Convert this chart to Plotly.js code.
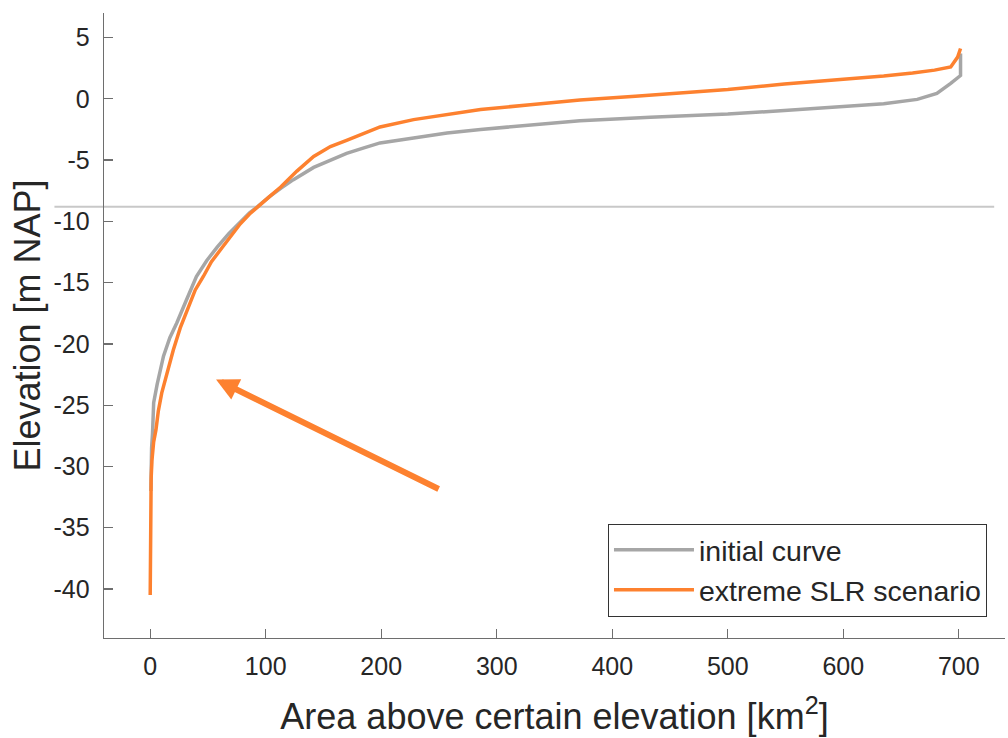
<!DOCTYPE html>
<html>
<head>
<meta charset="utf-8">
<script src="https://cdn.plot.ly/plotly-3.0.1.min.js"></script>
<style>html,body{margin:0;padding:0;background:#fff;}#chart{width:1008px;height:738px;}</style>
</head>
<body>
<div id="chart"></div>
<script>
// Hypsometric curves: area above a given elevation
const initialArea = [0.6, 0.8, 1.2, 2, 3, 6, 11.5, 17, 23, 31, 40, 49, 58, 68, 78, 86, 93, 103, 113, 124, 141.5, 156, 170, 185, 199, 228, 257, 286, 329, 372, 433, 500, 549, 600, 635, 664, 681, 693, 701.5, 701.5];
const initialElev = [-32, -30, -28.5, -27.3, -24.8, -23.3, -21, -19.5, -18.3, -16.5, -14.5, -13.2, -12.1, -11, -10, -9.3, -8.8, -8, -7.3, -6.6, -5.6, -5, -4.45, -4, -3.6, -3.2, -2.8, -2.5, -2.15, -1.8, -1.5, -1.25, -0.95, -0.65, -0.4, -0.05, 0.44, 1.25, 1.9, 3.7];

const slrArea = [0, 0.3, 0.8, 1.5, 3, 5, 7, 10, 14, 20, 26, 32, 39, 46, 53, 61, 70, 78, 86, 93, 103, 113, 127, 141.5, 156, 170, 185, 199, 228, 257, 286, 329, 372, 420, 459, 500, 549, 600, 635, 660, 679, 693, 699, 701.5];
const slrElev = [-40.5, -35, -31, -29.5, -28, -27, -25.5, -24, -22.5, -20.5, -18.7, -17.2, -15.6, -14.5, -13.3, -12.3, -11.2, -10.2, -9.4, -8.8, -8, -7.2, -5.9, -4.7, -3.9, -3.4, -2.8, -2.3, -1.7, -1.25, -0.87, -0.49, -0.1, 0.2, 0.49, 0.75, 1.2, 1.55, 1.85, 2.1, 2.34, 2.6, 3.4, 4.1];

const seriesNames = ['initial curve', 'extreme SLR scenario'];
const referenceLevel = -8.8;
const xTicks = [0, 100, 200, 300, 400, 500, 600, 700];
const xTickText = ['0', '100', '200', '300', '400', '500', '600', '700'];
const yTicks = [-40, -35, -30, -25, -20, -15, -10, -5, 0, 5];
const yTickText = ['-40', '-35', '-30', '-25', '-20', '-15', '-10', '-5', '0', '5'];

const FONT = '"Liberation Sans", Arial, Helvetica, sans-serif';
const GRAY = '#a6a6a6';
const ORANGE = '#fd812f';
const TXT = '#262626';
const AX = '#6e6e6e';

const traces = [
  {x: initialArea, y: initialElev, type: 'scatter', mode: 'lines', name: seriesNames[0],
   line: {color: GRAY, width: 3.5}},
  {x: slrArea, y: slrElev, type: 'scatter', mode: 'lines', name: seriesNames[1],
   line: {color: ORANGE, width: 3.5}}
];

const layout = {
  width: 1008, height: 738,
  margin: {l: 104, r: 3, t: 13, b: 100, autoexpand: false},
  paper_bgcolor: '#fff', plot_bgcolor: '#fff',
  font: {family: FONT, color: TXT, size: 25},
  showlegend: true,
  legend: {x: 0.98, y: 0.034, xanchor: 'right', yanchor: 'bottom',
    bordercolor: '#333', borderwidth: 1, bgcolor: '#fff',
    font: {family: FONT, size: 28.5, color: TXT}, itemwidth: 80, tracegroupgap: 0},
  xaxis: {
    range: [-40, 740], tickvals: xTicks, ticktext: xTickText, ticks: 'inside', ticklen: 9, tickwidth: 1.3,
    tickcolor: AX, showline: true, linecolor: AX, linewidth: 1.3, showgrid: false, zeroline: false,
    tickfont: {family: FONT, size: 25, color: TXT}, ticklabelstandoff: 6,
    title: {text: 'Area above certain elevation [km<sup>2</sup>]', font: {family: FONT, size: 36, color: TXT}, standoff: 24}
  },
  yaxis: {
    range: [-44, 7], tickvals: yTicks, ticktext: yTickText, ticks: 'inside', ticklen: 9, tickwidth: 1.3,
    tickcolor: AX, showline: true, linecolor: AX, linewidth: 1.3, showgrid: false, zeroline: false,
    tickfont: {family: FONT, size: 25, color: TXT}, ticklabelstandoff: 8,
    title: {text: 'Elevation [m NAP]', font: {family: FONT, size: 36, color: TXT}, standoff: 2}
  },
  shapes: [
    {type: 'line', xref: 'paper', yref: 'y', x0: -0.055, x1: 0.988, y0: referenceLevel, y1: referenceLevel,
     line: {color: '#c8c8c8', width: 2}, layer: 'below'}
  ],
  annotations: [
    {x: 57, y: -22.9, ax: 251, ay: -31.9, xref: 'x', yref: 'y', axref: 'x', ayref: 'y',
     text: '', showarrow: true, arrowhead: 2, arrowsize: 0.75, arrowwidth: 6, arrowcolor: ORANGE}
  ]
};

Plotly.newPlot('chart', traces, layout, {displayModeBar: false, staticPlot: true});
</script>
</body>
</html>
